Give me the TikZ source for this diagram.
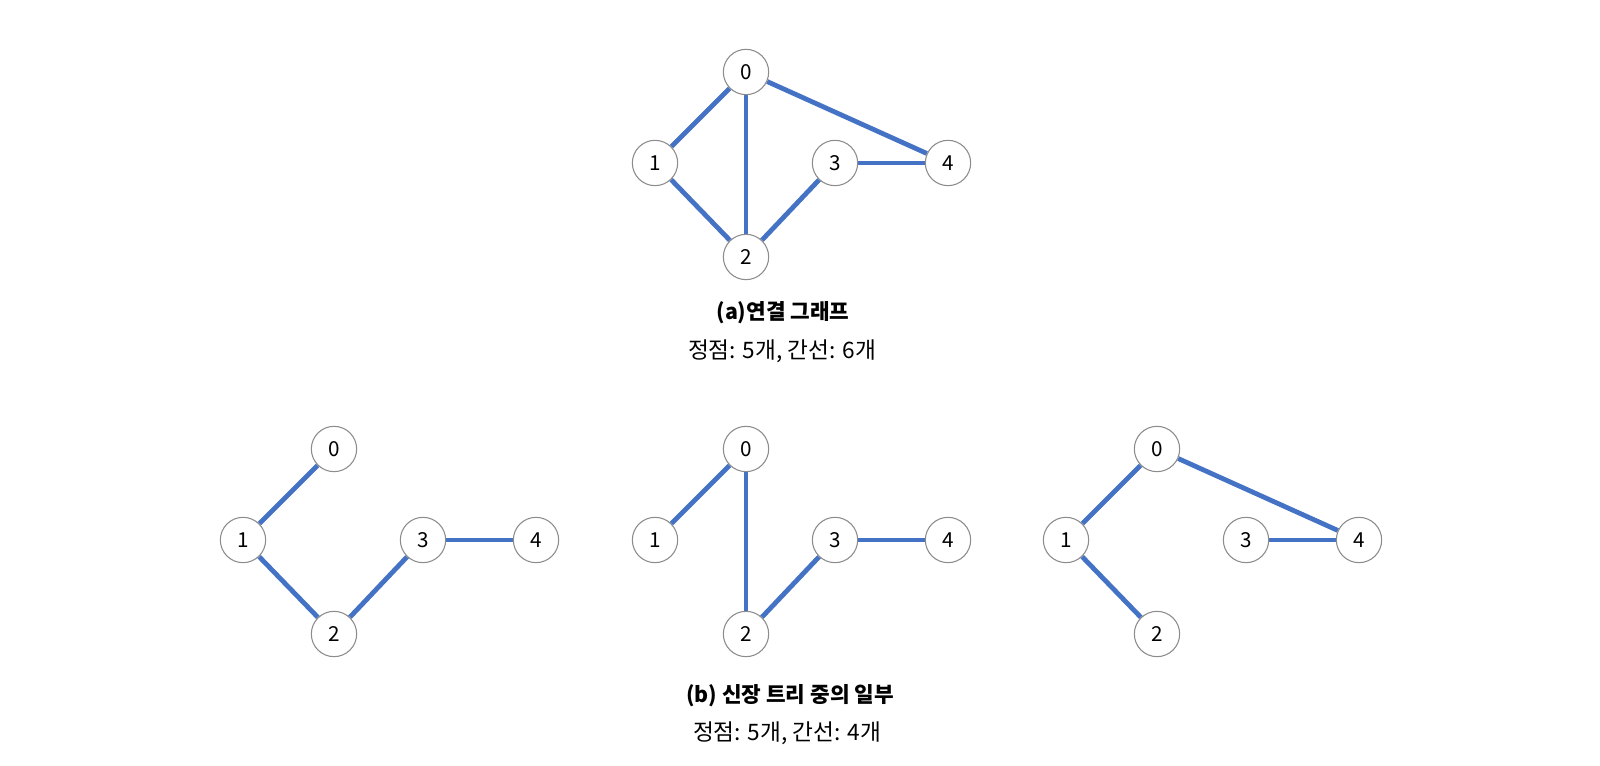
\documentclass[tikz,border=0pt]{standalone}
\usepackage{fontspec}
\setmainfont{Noto Sans CJK KR}
\usepackage{tikz}
\usetikzlibrary{backgrounds}
\definecolor{edgeblue}{HTML}{4472C4}
\definecolor{rimgray}{HTML}{8C8C8C}

\begin{document}
\begin{tikzpicture}[
      x=0.75pt, y=-0.75pt,
      vertex/.style={
          draw=rimgray,
          line width=0.8pt,
          fill=white,
          circle,
          inner sep=0pt,
          minimum size=34pt,
          font=\fontsize{15.5}{18}\selectfont
        },
      link/.style={
          draw=edgeblue,
          line width=3.6pt
        },
      title/.style={font=\fontsize{16}{20}\selectfont\bfseries},
      note/.style={font=\fontsize{17}{20}\selectfont}
    ]
    \useasboundingbox (0,0) rectangle (1600,766);
    % (a) connected graph
    \foreach \n/\x/\y in {0/746/72, 1/655/163, 2/746/257, 3/835/163, 4/948/163}
    \node[vertex] (a-\n) at (\x,\y) {\n};
    \begin{scope}[on background layer]
      \foreach \u/\v in {0/1, 0/2, 0/4, 1/2, 2/3, 3/4}
      \draw[link] (a-\u) -- (a-\v);
    \end{scope}
    \node[title] (atitle) at (783,313) {(a)연결 그래프};
    \node[note] (anote) at (782,351) {정점: 5개, 간선: 6개};
    % (b) some spanning trees
    \foreach \g/\dx in {l/-412, m/0, r/411}
      {\foreach \n/\x/\y in {0/746/72, 1/655/163, 2/746/257, 3/835/163, 4/948/163}
        \node[vertex] (\g-\n) at (\x+\dx,\y+377) {\n};
      }
    \begin{scope}[on background layer]
      \foreach \u/\v in {0/1, 1/2, 2/3, 3/4}
      \draw[link] (l-\u) -- (l-\v);
      \foreach \u/\v in {0/1, 0/2, 2/3, 3/4}
      \draw[link] (m-\u) -- (m-\v);
      \foreach \u/\v in {0/1, 0/4, 1/2, 3/4}
      \draw[link] (r-\u) -- (r-\v);
    \end{scope}
    \node[title] (btitle) at (790,696) {(b) 신장 트리 중의 일부};
    \node[note] (bnote) at (787,733) {정점: 5개, 간선: 4개};
  \end{tikzpicture}
\end{document}
